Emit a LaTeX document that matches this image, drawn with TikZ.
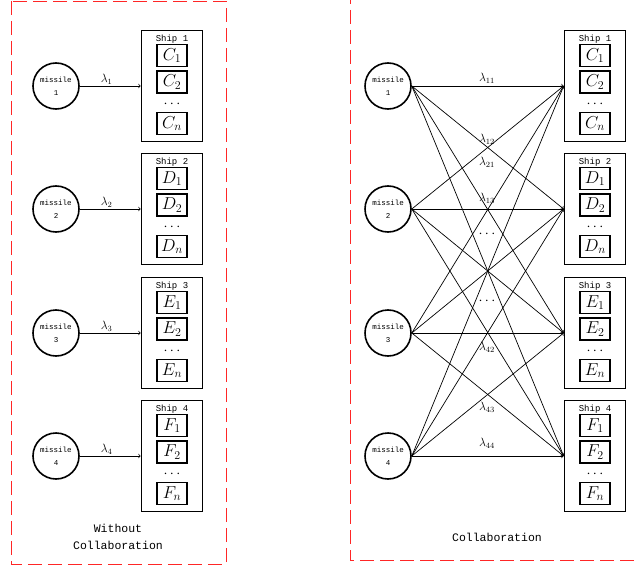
\documentclass[tikz,border=0pt]{standalone}
\usepackage{fontspec}
\setmonofont{Liberation Mono}
\usetikzlibrary{positioning}

\begin{document}
\begin{tikzpicture}[x=1pt, y=-1pt,
every node/.style={},
missile/.style={circle, draw, line width=1.6pt, minimum size=46pt, inner sep=0pt, align=center, font=\ttfamily\fontsize{7.5}{13}\selectfont},
ship/.style={rectangle, draw, line width=1.7pt, minimum width=61pt, minimum height=111pt},
title/.style={inner sep=0pt, font=\ttfamily\fontsize{9}{10}\selectfont},
cell/.style={rectangle, draw, line width=1.4pt, minimum width=30pt, minimum height=22pt, inner sep=0pt, font=\LARGE},
dots/.style={inner sep=0pt, font=\Large},
rate/.style={inner sep=1pt, font=\large},
caption/.style={align=center, font=\ttfamily\fontsize{11.5}{17}\selectfont},
panel/.style={draw=red!85, line width=0.9pt, dash pattern=on 14pt off 6pt},
link/.style={->, line width=0.7pt}
]

\clip (0,0) rectangle (637,567);

\draw [panel] (11,1) rectangle (226,564);
\draw [panel] (350,-10) rectangle (660,560);

% ships, left and right
\foreach \x/\p in {172/L, 595/R}
  \foreach \i/\y/\c in {1/86/C, 2/209/D, 3/333/E, 4/456/F} {
    \node [ship] (\p s\i) at (\x,\y) {};
    \node [title] (\p t\i) at (\x,\y-47) {Ship \i};
    \node [cell] (\p a\i) at (\x,\y-30.5) {$\c_1$};
    \node [cell] (\p b\i) at (\x,\y-4) {$\c_2$};
    \node [dots] (\p d\i) at (\x,\y+18) {$\cdots$};
    \node [cell] (\p n\i) at (\x,\y+37.5) {$\c_n$};
  }

\node [missile] (Lm1) at (56,86) {missile\\1};
\node [missile] (Lm2) at (56,209) {missile\\2};
\node [missile] (Lm3) at (56,333) {missile\\3};
\node [missile] (Lm4) at (56,456) {missile\\4};

\node [missile] (Rm1) at (388,86) {missile\\1};
\node [missile] (Rm2) at (388,209) {missile\\2};
\node [missile] (Rm3) at (388,333) {missile\\3};
\node [missile] (Rm4) at (388,456) {missile\\4};

\draw [link] (Lm1) -- node [rate, pos=.44, above] (l1) {$\lambda_1$} (Ls1);
\draw [link] (Lm2) -- node [rate, pos=.44, above] (l2) {$\lambda_2$} (Ls2);
\draw [link] (Lm3) -- node [rate, pos=.44, above] (l3) {$\lambda_3$} (Ls3);
\draw [link] (Lm4) -- node [rate, pos=.44, above] (l4) {$\lambda_4$} (Ls4);

\foreach \i in {1,...,4}
  \foreach \j in {1,...,4}
    \draw [link] (Rm\i.east) -- (Rs\j.west);

\node [rate] (l11) at (487,78) {$\lambda_{11}$};
\node [rate] (l12) at (487,139) {$\lambda_{12}$};
\node [rate] (l21) at (487,162) {$\lambda_{21}$};
\node [rate] (l13) at (487,198) {$\lambda_{13}$};
\node [dots] (d1) at (487,234) {$\cdots$};
\node [dots] (d2) at (487,301) {$\cdots$};
\node [rate] (l42) at (487,347) {$\lambda_{42}$};
\node [rate] (l43) at (487,407) {$\lambda_{43}$};
\node [rate] (l44) at (487,443) {$\lambda_{44}$};

\node [caption] (without) at (118,537) {Without\\Collaboration};
\node [caption] (with) at (497,537) {Collaboration};

\end{tikzpicture}
\end{document}
